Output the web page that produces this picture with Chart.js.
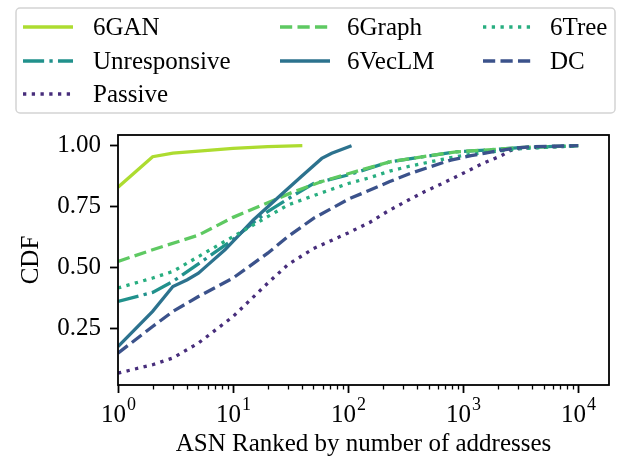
<!DOCTYPE html>
<html>
<head>
<meta charset="utf-8">
<script src="https://cdn.jsdelivr.net/npm/chart.js@4.4.0/dist/chart.umd.min.js"></script>
<style>
  html, body { margin: 0; padding: 0; background: #fff; }
</style>
</head>
<body>
<canvas id="cdfChart" width="618" height="457"></canvas>
<script>
// series, in the order they were plotted (legend fills column by column)
const seriesNames = ['6GAN', 'Unresponsive', 'Passive', '6Graph', '6VecLM', '6Tree', 'DC'];

// ASN rank (x) and CDF value (y)
const ganX = [1, 2, 3, 5, 10, 20, 40];
const ganY = [0.830, 0.955, 0.970, 0.978, 0.989, 0.996, 1.0];

const unrespX = [1, 2, 3, 5, 10, 16, 20, 34, 50, 100, 230, 450, 870, 1780, 3300, 10000];
const unrespY = [0.361, 0.398, 0.443, 0.515, 0.615, 0.695, 0.730, 0.798, 0.845, 0.880, 0.934, 0.955, 0.975, 0.984, 0.993, 1.0];

const passiveX = [1, 2, 3, 5, 10, 20, 30, 50, 100, 155, 219, 322, 464, 678, 1000, 1442, 2140, 2560, 3100, 10000];
const passiveY = [0.067, 0.101, 0.129, 0.190, 0.299, 0.436, 0.512, 0.578, 0.642, 0.686, 0.730, 0.773, 0.812, 0.848, 0.887, 0.925, 0.959, 0.980, 0.989, 1.0];

const graphX = [1, 2, 5, 10, 18, 34, 59, 100, 230, 450, 870, 1780, 3300, 10000];
const graphY = [0.525, 0.573, 0.633, 0.706, 0.757, 0.812, 0.853, 0.885, 0.934, 0.955, 0.975, 0.984, 0.993, 1.0];

const vecX = [1, 2, 3, 4, 5, 6, 8.5, 15, 26, 39, 59, 72, 107];
const vecY = [0.176, 0.320, 0.422, 0.450, 0.477, 0.510, 0.573, 0.695, 0.798, 0.873, 0.948, 0.969, 1.0];

const treeX = [1, 2, 3, 5, 10, 20, 30, 50, 102, 155, 230, 350, 520, 780, 1170, 1780, 3000, 5000, 10000];
const treeY = [0.416, 0.457, 0.484, 0.545, 0.627, 0.709, 0.757, 0.795, 0.846, 0.869, 0.896, 0.917, 0.934, 0.951, 0.965, 0.975, 0.987, 0.993, 1.0];

const dcX = [1, 2, 3, 5, 10, 20, 30, 50, 102, 155, 230, 350, 520, 780, 1170, 1780, 2700, 3800, 10000];
const dcY = [0.149, 0.258, 0.320, 0.381, 0.457, 0.559, 0.627, 0.702, 0.782, 0.818, 0.853, 0.887, 0.914, 0.941, 0.959, 0.975, 0.989, 0.996, 1.0];

const seriesX = [ganX, unrespX, passiveX, graphX, vecX, treeX, dcX];
const seriesY = [ganY, unrespY, passiveY, graphY, vecY, treeY, dcY];

// tick labels
const xTickPowers = [0, 1, 2, 3, 4];
const yTicks = [0.25, 0.50, 0.75, 1.00];

const colors = ['#addc30', '#21918c', '#472d7b', '#5ec962', '#2c728e', '#28ae80', '#3b528b'];
const LW = 3.3;
const dashes = [
  [],
  [6.4 * LW, 1.6 * LW, 1 * LW, 1.6 * LW],
  [1 * LW, 1.65 * LW],
  [3.7 * LW, 1.6 * LW],
  [],
  [1 * LW, 1.65 * LW],
  [3.7 * LW, 1.6 * LW]
];

const FONT = "'Liberation Serif', 'DejaVu Serif', serif";
const FS = 25;

const isPow10 = (v) => Math.abs(Math.log10(v) - Math.round(Math.log10(v))) < 1e-9;

// 1..9 x 10^k for every decade shown
const xTickValues = [];
xTickPowers.forEach(k => {
  for (let m = 1; m <= 9; m++) {
    const v = m * Math.pow(10, k);
    if (v <= 18500) xTickValues.push(v);
  }
});

const datasets = seriesNames.map((name, i) => ({
  label: name,
  data: seriesX[i].map((x, j) => ({ x: x, y: seriesY[i][j] })),
  borderColor: colors[i],
  backgroundColor: colors[i],
  borderWidth: LW,
  borderDash: dashes[i],
  borderCapStyle: 'butt',
  pointRadius: 0,
  tension: 0,
  fill: false,
  order: seriesNames.length - i   // later series drawn on top, like matplotlib
}));

// frame around the axes, x tick marks (major + minor) and 10^k labels
const frameTicks = {
  id: 'frameTicks',
  afterDatasetsDraw(chart) {
    const { ctx, chartArea: a, scales } = chart;
    ctx.save();
    ctx.strokeStyle = '#000';
    ctx.fillStyle = '#000';
    scales.x.ticks.forEach(t => {
      const px = Math.round(scales.x.getPixelForValue(t.value)) + 0.5;
      const major = isPow10(t.value);
      ctx.lineWidth = major ? 1.8 : 1.3;
      ctx.beginPath();
      ctx.moveTo(px, a.bottom);
      ctx.lineTo(px, a.bottom + (major ? 8 : 4.5));
      ctx.stroke();
      if (major) {
        const exp = String(Math.round(Math.log10(t.value)));
        ctx.font = FS + 'px ' + FONT;
        const wb = ctx.measureText('10').width;
        ctx.font = '18px ' + FONT;
        const we = ctx.measureText(exp).width;
        const x0 = px - (wb + we + 1) / 2;
        ctx.textBaseline = 'alphabetic';
        ctx.textAlign = 'left';
        ctx.font = FS + 'px ' + FONT;
        ctx.fillText('10', x0, a.bottom + 37);
        ctx.font = '18px ' + FONT;
        ctx.fillText(exp, x0 + wb + 1, a.bottom + 25);
      }
    });
    ctx.lineWidth = 1.8;
    ctx.strokeRect(a.left, a.top, a.right - a.left, a.bottom - a.top);
    ctx.restore();
  }
};

// boxed legend, 3 columns
const legendBox = {
  id: 'legendBox',
  afterDraw(chart) {
    const ctx = chart.ctx;
    const handleX = [23, 280, 483];
    const textX = [93, 347, 550];
    const rowY = [27, 61, 94];
    ctx.save();
    ctx.beginPath();
    ctx.roundRect(16, 8, 599, 105, 4);
    ctx.fillStyle = 'rgba(255,255,255,0.8)';
    ctx.fill();
    ctx.strokeStyle = '#d4d4d4';
    ctx.lineWidth = 1.5;
    ctx.stroke();
    ctx.font = FS + 'px ' + FONT;
    ctx.textBaseline = 'middle';
    ctx.fillStyle = '#000';
    chart.data.datasets.forEach((ds, i) => {
      const col = i < 3 ? 0 : (i < 5 ? 1 : 2);
      const row = i < 3 ? i : (i < 5 ? i - 3 : i - 5);
      const y = rowY[row];
      ctx.beginPath();
      ctx.strokeStyle = ds.borderColor;
      ctx.lineWidth = LW;
      ctx.setLineDash(ds.borderDash);
      ctx.moveTo(handleX[col], y);
      ctx.lineTo(handleX[col] + 50, y);
      ctx.stroke();
      ctx.setLineDash([]);
      ctx.fillText(ds.label, textX[col], y + 1);
    });
    ctx.restore();
  }
};

new Chart(document.getElementById('cdfChart').getContext('2d'), {
  type: 'line',
  data: { datasets: datasets },
  plugins: [frameTicks, legendBox],
  options: {
    responsive: false,
    animation: false,
    devicePixelRatio: 1,
    layout: { padding: { top: 135, right: 9, bottom: 0, left: 0 } },
    plugins: { legend: { display: false }, tooltip: { enabled: false } },
    scales: {
      x: {
        type: 'logarithmic',
        min: 1,
        max: 18500,
        afterBuildTicks: (scale) => {
          scale.ticks = xTickValues.map(v => ({ value: v, major: isPow10(v) }));
        },
        afterFit: (scale) => { scale.height = 72; },
        ticks: { display: false, autoSkip: false, maxRotation: 0 },
        grid: { display: false, drawTicks: false },
        border: { display: false },
        title: {
          display: true,
          text: 'ASN Ranked by number of addresses',
          color: '#000',
          font: { family: FONT, size: FS },
          padding: { top: 0, bottom: -2 }
        }
      },
      y: {
        min: 0.018,
        max: 1.044,
        afterBuildTicks: (scale) => {
          scale.ticks = yTicks.map(v => ({ value: v }));
        },
        afterFit: (scale) => { scale.width = 118; },
        ticks: {
          padding: 9,
          color: '#000',
          font: { family: FONT, size: FS },
          callback: (v) => v.toFixed(2)
        },
        grid: { drawOnChartArea: false, drawTicks: true, tickLength: 8, tickWidth: 1.8, tickColor: '#000' },
        border: { display: false },
        title: {
          display: true,
          text: 'CDF',
          color: '#000',
          font: { family: FONT, size: FS },
          padding: { top: 16, bottom: 0 }
        }
      }
    }
  }
});
</script>
</body>
</html>
